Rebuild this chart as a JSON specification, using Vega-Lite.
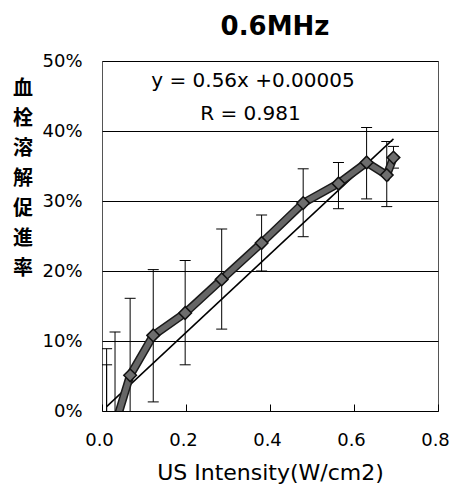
{
  "$schema": "https://vega.github.io/schema/vega-lite/v6.json",
  "width": 336,
  "height": 350,
  "autosize": "none",
  "padding": {"left": 102, "top": 61, "right": 13, "bottom": 75},
  "background": "white",
  "config": {
    "view": {"stroke": "#555", "strokeWidth": 1},
    "axis": {
      "domain": false,
      "labelFont": "DejaVu Sans",
      "titleFont": "DejaVu Sans",
      "labelColor": "#000",
      "titleColor": "#000"
    }
  },
  "datasets": {
    "series": [
      {"x": 0.011, "y": -0.05, "lo": -0.19, "hi": 0.089},
      {"x": 0.011, "y": -0.06, "lo": -0.19, "hi": 0.066},
      {"x": 0.031, "y": -0.02, "lo": -0.16, "hi": 0.113},
      {"x": 0.067, "y": 0.051, "lo": -0.059, "hi": 0.161},
      {"x": 0.122, "y": 0.108, "lo": 0.013, "hi": 0.202},
      {"x": 0.198, "y": 0.140, "lo": 0.066, "hi": 0.215},
      {"x": 0.285, "y": 0.188, "lo": 0.117, "hi": 0.260},
      {"x": 0.380, "y": 0.240, "lo": 0.200, "hi": 0.280},
      {"x": 0.479, "y": 0.297, "lo": 0.249, "hi": 0.346},
      {"x": 0.563, "y": 0.325, "lo": 0.289, "hi": 0.355},
      {"x": 0.630, "y": 0.355, "lo": 0.303, "hi": 0.405},
      {"x": 0.678, "y": 0.337, "lo": 0.292, "hi": 0.385},
      {"x": 0.694, "y": 0.362, "lo": 0.347, "hi": 0.378}
    ],
    "fit": [
      {"x": 0.011, "y": 0.00621},
      {"x": 0.694, "y": 0.38869}
    ],
    "labels": [
      {"heading": "0.6MHz", "line1": "y = 0.56x +0.00005", "line2": "R = 0.981"}
    ]
  },
  "layer": [
    {
      "data": {"name": "series"},
      "mark": {"type": "rule", "color": "#000", "strokeWidth": 1, "clip": true},
      "encoding": {
        "x": {
          "field": "x",
          "type": "quantitative",
          "scale": {"domain": [0, 0.8], "nice": false, "zero": false},
          "axis": {
            "title": "US Intensity(W/cm2)",
            "titleFontSize": 22,
            "titleFontWeight": "normal",
            "titlePadding": 13,
            "values": [0, 0.2, 0.4, 0.6, 0.8],
            "format": ".1f",
            "labelFontSize": 18,
            "labelPadding": 27,
            "labelOffset": -3,
            "labelFlush": false,
            "tickSize": -7,
            "tickColor": "#000",
            "tickWidth": 1,
            "grid": false
          }
        },
        "y": {
          "field": "lo",
          "type": "quantitative",
          "scale": {"domain": [0, 0.5], "nice": false, "zero": false},
          "axis": {
            "title": ["血", "栓", "溶", "解", "促", "進", "率"],
            "titleFont": "Noto Sans CJK JP",
            "titleFontSize": 20,
            "titleFontWeight": "bold",
            "titleAngle": 0,
            "titleAlign": "center",
            "titleBaseline": "top",
            "titleLineHeight": 30,
            "titleX": -79.5,
            "titleY": 17,
            "values": [0, 0.1, 0.2, 0.3, 0.4, 0.5],
            "format": ".0%",
            "labelFontSize": 18,
            "labelPadding": 20,
            "labelFlush": false,
            "ticks": false,
            "grid": true,
            "gridColor": "#000",
            "gridOpacity": 1,
            "gridWidth": 1
          }
        },
        "y2": {"field": "hi"}
      }
    },
    {
      "data": {"name": "series"},
      "mark": {"type": "tick", "orient": "horizontal", "size": 11, "thickness": 1, "color": "#000", "opacity": 1, "clip": true},
      "encoding": {
        "x": {"field": "x", "type": "quantitative"},
        "y": {"field": "hi", "type": "quantitative"}
      }
    },
    {
      "data": {"name": "series"},
      "mark": {"type": "tick", "orient": "horizontal", "size": 11, "thickness": 1, "color": "#000", "opacity": 1, "clip": true},
      "encoding": {
        "x": {"field": "x", "type": "quantitative"},
        "y": {"field": "lo", "type": "quantitative"}
      }
    },
    {
      "data": {"name": "fit"},
      "mark": {"type": "line", "color": "#000", "strokeWidth": 1.5, "clip": true},
      "encoding": {
        "x": {"field": "x", "type": "quantitative"},
        "y": {"field": "y", "type": "quantitative"}
      }
    },
    {
      "data": {"name": "series"},
      "mark": {"type": "line", "color": "#1a1a1a", "strokeWidth": 8.5, "clip": true},
      "encoding": {
        "x": {"field": "x", "type": "quantitative"},
        "y": {"field": "y", "type": "quantitative"}
      }
    },
    {
      "data": {"name": "series"},
      "mark": {"type": "line", "color": "#666", "strokeWidth": 5.5, "clip": true},
      "encoding": {
        "x": {"field": "x", "type": "quantitative"},
        "y": {"field": "y", "type": "quantitative"}
      }
    },
    {
      "data": {"name": "series"},
      "mark": {"type": "point", "shape": "diamond", "size": 160, "filled": true, "color": "#6e6e6e", "stroke": "#111", "strokeWidth": 1.5, "opacity": 1, "clip": true},
      "encoding": {
        "x": {"field": "x", "type": "quantitative"},
        "y": {"field": "y", "type": "quantitative"}
      }
    },
    {
      "data": {"name": "labels"},
      "mark": {
        "type": "text",
        "font": "DejaVu Sans",
        "fontSize": 20,
        "align": "center",
        "baseline": "alphabetic",
        "color": "#000"
      },
      "encoding": {
        "text": {"field": "line1"},
        "x": {"datum": 0.3595},
        "y": {"datum": 0.4629}
      }
    },
    {
      "data": {"name": "labels"},
      "mark": {
        "type": "text",
        "font": "DejaVu Sans",
        "fontSize": 20,
        "align": "center",
        "baseline": "alphabetic",
        "color": "#000"
      },
      "encoding": {
        "text": {"field": "line2"},
        "x": {"datum": 0.3535},
        "y": {"datum": 0.4157}
      }
    },
    {
      "data": {"name": "labels"},
      "mark": {
        "type": "text",
        "font": "DejaVu Sans",
        "fontSize": 26,
        "fontWeight": "bold",
        "align": "center",
        "baseline": "alphabetic",
        "color": "#000",
        "clip": false
      },
      "encoding": {
        "text": {"field": "heading"},
        "x": {"datum": 0.4119},
        "y": {"datum": 0.5371}
      }
    }
  ]
}
